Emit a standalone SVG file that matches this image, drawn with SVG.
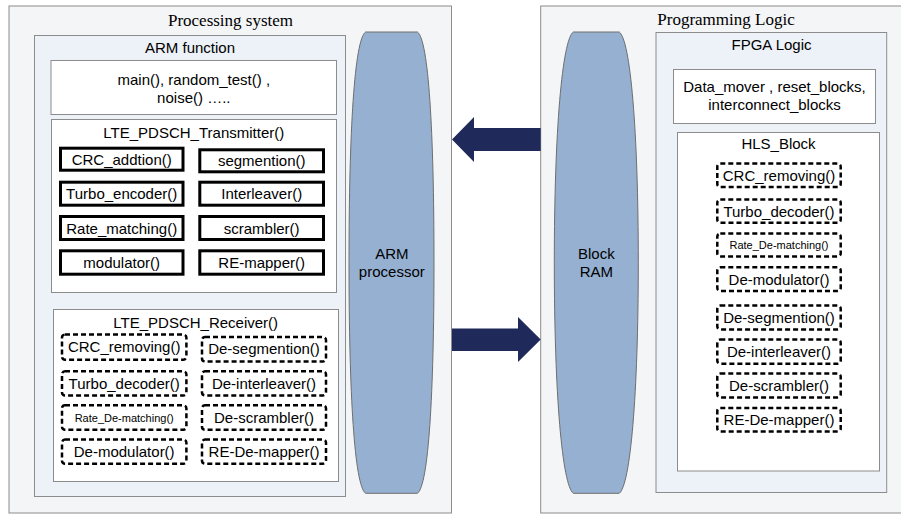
<svg xmlns="http://www.w3.org/2000/svg" width="901" height="515" viewBox="0 0 901 515">
  <style>
    .sys { fill: #f4f5f7; stroke: #8c8c8c; stroke-width: 1; }
    .func { fill: #edf1f8; stroke: #8c8c8c; stroke-width: 1; }
    .panel { fill: #ffffff; stroke: #8c8c8c; stroke-width: 1; }
    .solid { fill: #ffffff; stroke: #000000; stroke-width: 3; }
    .dash { fill: #ffffff; stroke: #000000; stroke-width: 2.5; stroke-dasharray: 5 3; }
    .bus { fill: #95b0d1; stroke: #6e6e6e; stroke-width: 1; }
    .arrow { fill: #1f2a5b; }
    text { font-family: "Liberation Sans", Arial, sans-serif; font-size: 15px; fill: #000000; text-anchor: middle; }
    .serif { font-family: "Liberation Serif", "Times New Roman", serif; font-size: 17px; }
    .small { font-size: 11px; }
  </style>

  <rect x="0" y="0" width="901" height="515" fill="#ffffff"/>

  <!-- Processing system side -->
  <g id="processing-system">
    <rect class="sys" x="9" y="6" width="442.5" height="507"/>
    <text class="serif" x="230.5" y="26">Processing system</text>
  </g>

  <g id="arm-function">
    <rect class="func" x="34.5" y="35.5" width="311" height="461"/>
    <text x="190" y="53">ARM function</text>
  </g>

  <g id="arm-main">
    <rect class="panel" x="51" y="60.5" width="285.5" height="54"/>
    <text x="193.8" y="85">main(), random_test() ,</text>
    <text x="193.8" y="103">noise() …..</text>
  </g>

  <g id="lte-transmitter">
    <rect class="panel" x="51.5" y="119.5" width="285" height="173"/>
    <text x="193.8" y="137.5">LTE_PDSCH_Transmitter()</text>
    <g id="tx-crc">
      <rect class="solid" x="60.5" y="148.2" width="122.5" height="22"/>
      <text x="121.7" y="164.7">CRC_addtion()</text>
    </g>
    <g id="tx-segmention">
      <rect class="solid" x="199.8" y="149.8" width="123.7" height="22"/>
      <text x="261.7" y="166.3">segmention()</text>
    </g>
    <g id="tx-turbo">
      <rect class="solid" x="60.5" y="182.2" width="122.5" height="23"/>
      <text x="121.7" y="199">Turbo_encoder()</text>
    </g>
    <g id="tx-interleaver">
      <rect class="solid" x="199.8" y="182.2" width="123.7" height="23"/>
      <text x="261.7" y="199">Interleaver()</text>
    </g>
    <g id="tx-rate">
      <rect class="solid" x="60.5" y="216.5" width="122.5" height="23"/>
      <text x="121.7" y="233.5">Rate_matching()</text>
    </g>
    <g id="tx-scrambler">
      <rect class="solid" x="199.8" y="216.5" width="123.7" height="23"/>
      <text x="261.7" y="233.5">scrambler()</text>
    </g>
    <g id="tx-modulator">
      <rect class="solid" x="60.5" y="250.8" width="122.5" height="23.4"/>
      <text x="121.7" y="268">modulator()</text>
    </g>
    <g id="tx-mapper">
      <rect class="solid" x="199.8" y="250.8" width="123.7" height="23.4"/>
      <text x="261.7" y="268">RE-mapper()</text>
    </g>
  </g>

  <g id="lte-receiver">
    <rect class="panel" x="53.5" y="309.5" width="285" height="172"/>
    <text x="195.7" y="328">LTE_PDSCH_Receiver()</text>
    <g id="rx-crc">
      <rect class="dash" x="62" y="334.6" width="124.4" height="25.1" rx="3"/>
      <text x="124.2" y="352.2">CRC_removing()</text>
    </g>
    <g id="rx-desegmention">
      <rect class="dash" x="202" y="337" width="124" height="24.4" rx="3"/>
      <text x="264" y="354.3">De-segmention()</text>
    </g>
    <g id="rx-turbo">
      <rect class="dash" x="62" y="371.3" width="124.4" height="24.1" rx="3"/>
      <text x="124.2" y="388.5">Turbo_decoder()</text>
    </g>
    <g id="rx-deinterleaver">
      <rect class="dash" x="202" y="371.3" width="124" height="24.1" rx="3"/>
      <text x="264" y="388.5">De-interleaver()</text>
    </g>
    <g id="rx-rate">
      <rect class="dash" x="62" y="405.3" width="124.4" height="24.4" rx="3"/>
      <text class="small" x="124.2" y="421.5">Rate_De-matching()</text>
    </g>
    <g id="rx-descrambler">
      <rect class="dash" x="202" y="405.3" width="124" height="24.4" rx="3"/>
      <text x="264" y="423">De-scrambler()</text>
    </g>
    <g id="rx-demodulator">
      <rect class="dash" x="62" y="439.6" width="124.4" height="24.1" rx="3"/>
      <text x="124.2" y="457">De-modulator()</text>
    </g>
    <g id="rx-demapper">
      <rect class="dash" x="202" y="439.6" width="124" height="24.1" rx="3"/>
      <text x="264" y="457">RE-De-mapper()</text>
    </g>
  </g>

  <g id="arm-processor">
    <path class="bus" d="M365.5,32 H417.5 C428.5,40 434,130 434,262.7 C434,395 428.5,485 417.5,493.3 H365.5 C354.5,485 349,395 349,262.7 C349,130 354.5,40 365.5,32 Z"/>
    <text x="391.8" y="259">ARM</text>
    <text x="391.8" y="277">processor</text>
  </g>

  <!-- Programming logic side -->
  <g id="programming-logic">
    <rect class="sys" x="540.7" y="6" width="370" height="507"/>
    <text class="serif" x="726" y="25">Programming Logic</text>
  </g>

  <g id="block-ram">
    <path class="bus" d="M573.3,32 H619.3 C630.3,40 638.3,130 638.3,262.7 C638.3,395 630.3,485 619.3,493.3 H573.3 C562.3,485 554.3,395 554.3,262.7 C554.3,130 562.3,40 573.3,32 Z"/>
    <text x="596.3" y="259">Block</text>
    <text x="596.3" y="277">RAM</text>
  </g>

  <g id="fpga-logic">
    <rect class="func" x="656" y="32.5" width="230.7" height="460"/>
    <text x="771.5" y="50">FPGA Logic</text>
  </g>

  <g id="fpga-infra">
    <rect class="panel" x="673.5" y="69.5" width="202" height="54"/>
    <text x="774.5" y="92">Data_mover , reset_blocks,</text>
    <text x="774.5" y="110">interconnect_blocks</text>
  </g>

  <g id="hls-block">
    <rect class="panel" x="677.5" y="132.5" width="202" height="338.5"/>
    <text x="778.5" y="149">HLS_Block</text>
    <g id="hls-crc">
      <rect class="dash" x="717.3" y="163.6" width="123.4" height="23.4" rx="3"/>
      <text x="779" y="180.5">CRC_removing()</text>
    </g>
    <g id="hls-turbo">
      <rect class="dash" x="717.3" y="199.6" width="123.4" height="23.2" rx="3"/>
      <text x="779" y="216.5">Turbo_decoder()</text>
    </g>
    <g id="hls-rate">
      <rect class="dash" x="717.3" y="233.6" width="123.4" height="22.8" rx="3"/>
      <text class="small" x="779" y="249">Rate_De-matching()</text>
    </g>
    <g id="hls-demodulator">
      <rect class="dash" x="717.3" y="267.3" width="123.4" height="23.7" rx="3"/>
      <text x="779" y="284.5">De-modulator()</text>
    </g>
    <g id="hls-desegmention">
      <rect class="dash" x="717.3" y="305.6" width="123.4" height="23.8" rx="3"/>
      <text x="779" y="322.8">De-segmention()</text>
    </g>
    <g id="hls-deinterleaver">
      <rect class="dash" x="717.3" y="339.6" width="123.4" height="24.1" rx="3"/>
      <text x="779" y="357">De-interleaver()</text>
    </g>
    <g id="hls-descrambler">
      <rect class="dash" x="717.3" y="373.6" width="123.4" height="23.8" rx="3"/>
      <text x="779" y="391">De-scrambler()</text>
    </g>
    <g id="hls-demapper">
      <rect class="dash" x="717.3" y="408" width="123.4" height="23.4" rx="3"/>
      <text x="779" y="425">RE-De-mapper()</text>
    </g>
  </g>

  <!-- Data transfer arrows between the two sides -->
  <g id="connectors">
    <polygon class="arrow" points="452,139.5 474,117 474,128 540.7,128 540.7,151 474,151 474,162"/>
    <polygon class="arrow" points="452,328.5 518,328.5 518,317 540.7,339.5 518,362 518,351 452,351"/>
  </g>
</svg>
